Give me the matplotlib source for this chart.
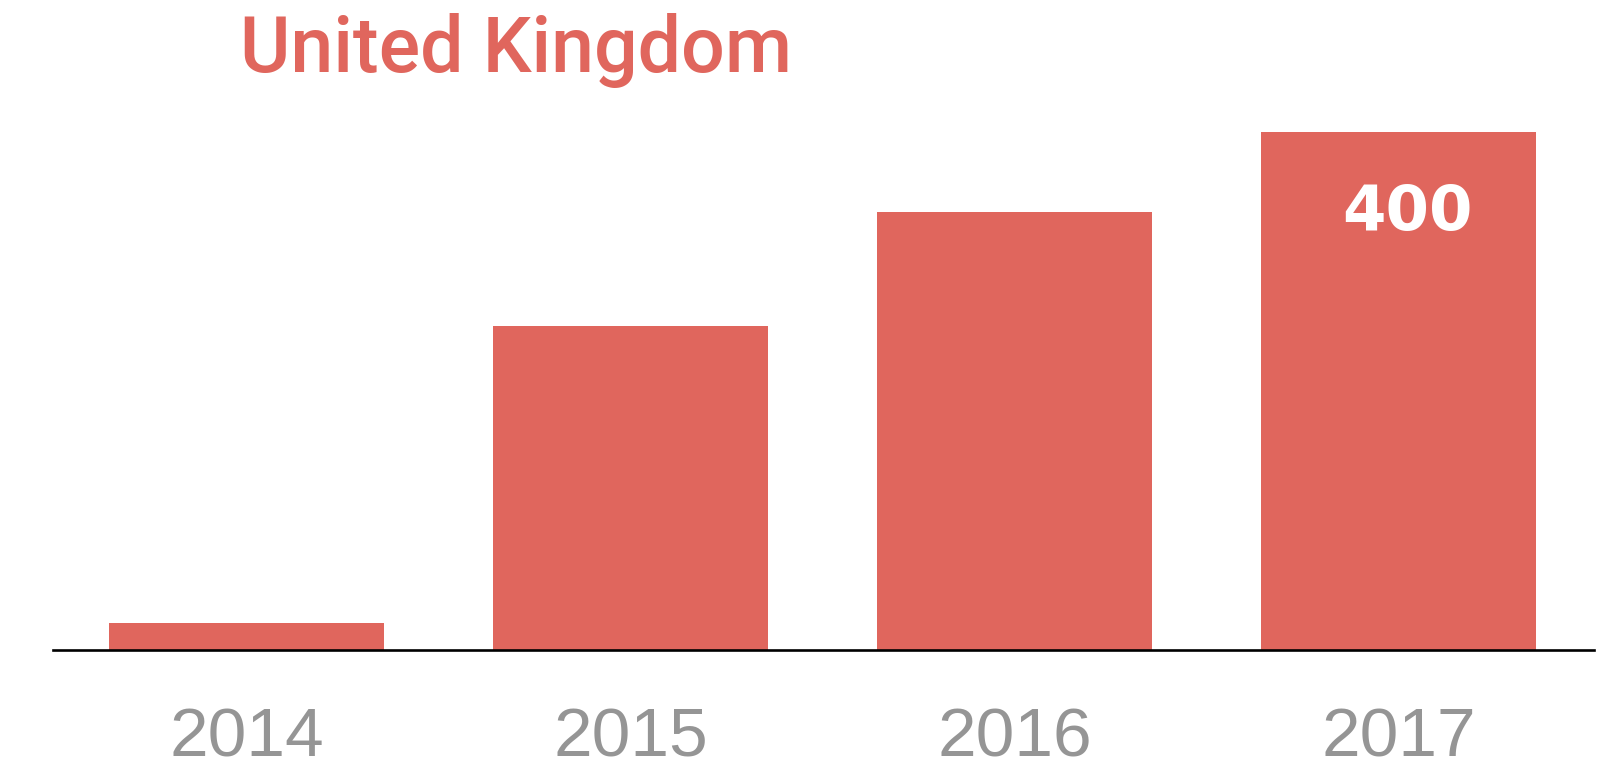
import matplotlib
matplotlib.use("Agg")
import matplotlib.pyplot as plt
from matplotlib.transforms import offset_copy

years = ["2014", "2015", "2016", "2017"]
values = [21, 250, 338, 400]
label_value = "400"
title = "United Kingdom"

bar_color = "#E0665D"
W, H, DPI = 1619, 770, 100

fig = plt.figure(figsize=(W / DPI, H / DPI), dpi=DPI)
ax = fig.add_axes([53 / W, (H - 650) / H, 1541 / W, 518 / H])

x = list(range(len(years)))
ax.bar(x, values, width=0.716, color=bar_color, zorder=2)
ax.set_xlim(-0.504, 3.509)
ax.set_ylim(0, 400)

for s in ["top", "right", "left"]:
    ax.spines[s].set_visible(False)
ax.spines["bottom"].set_linewidth(1.9)
ax.spines["bottom"].set_color("black")
ax.spines["bottom"].set_zorder(3)
ax.set_yticks([])
ax.set_xticks(x)
ax.set_xticklabels(years, fontsize=50, color="#959595", family="Liberation Sans")
ax.tick_params(axis="x", length=0, pad=41)

trans = offset_copy(ax.transData, fig=fig, x=9, y=0, units="dots")
ax.text(x[-1], values[-1] - 39, label_value, transform=trans, ha="center", va="top",
        fontsize=45, fontweight="bold", color="white", family="DejaVu Sans",
        zorder=4)

fig.text(240 / W, 1 - 72 / H, title, fontsize=55.5, color=bar_color,
         family="Roboto", fontweight="medium", ha="left", va="baseline")

fig.savefig("out.png", dpi=DPI)
